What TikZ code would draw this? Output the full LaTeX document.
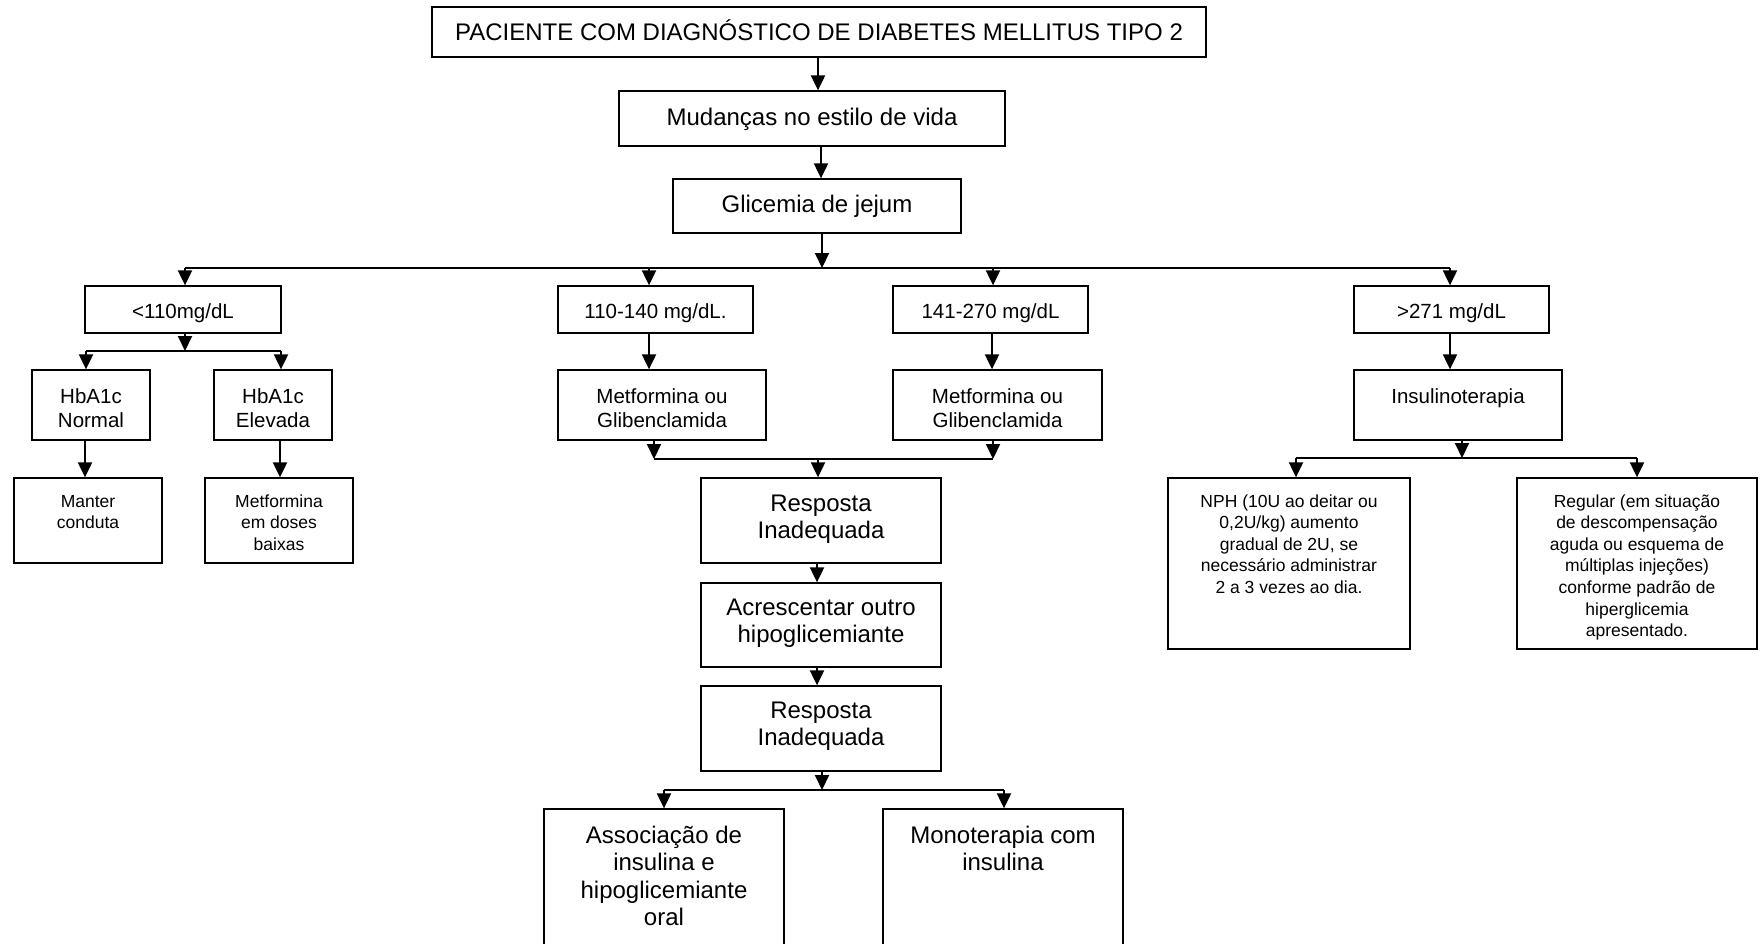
\documentclass[tikz,border=0pt]{standalone}
\usepackage{fontspec}
\setmainfont{Liberation Sans}
\usetikzlibrary{arrows.meta,calc}
\newcommand\mkbox[5]{\node[box, minimum width={(#4-#2)*1pt}, minimum height={(#5-#3)*1pt}] (#1) at ({(#2+#4)/2},{(#3+#5)/2}) {};}
\tikzset{
  box/.style={draw, line width=1.3pt, inner sep=0pt, fill=white},
  ln/.style={line width=2pt},
  arr/.style={line width=2pt, -{Triangle[length=15pt,width=14pt]}},
  tL/.style={anchor=base, align=center, inner sep=0pt, font={\fontsize{24}{27.6}\selectfont}},
  tM/.style={anchor=base, align=center, inner sep=0pt, font={\fontsize{20.5}{24}\selectfont}},
  tS/.style={anchor=base, align=center, inner sep=0pt, font={\fontsize{17.5}{21.6}\selectfont}}
}
\begin{document}
\begin{tikzpicture}[x=1pt,y=-1pt]
\useasboundingbox (0,0) rectangle (1762,943);
\clip (0,0) rectangle (1762,943);
\fill[white] (0,0) rectangle (1762,943);
% boxes
\mkbox{title}{432}{7}{1206}{57}
\mkbox{mud}{619}{91}{1005}{146}
\mkbox{gli}{673}{179}{961}{233}
\mkbox{l110}{85}{286}{281}{333}
\mkbox{r110}{558}{286}{753}{333}
\mkbox{r141}{893}{286}{1088}{333}
\mkbox{g271}{1354}{286}{1549}{333}
\mkbox{hbn}{32}{370}{150}{440}
\mkbox{hbe}{214}{370}{332}{440}
\mkbox{met1}{558}{370}{766}{440}
\mkbox{met2}{893}{370}{1102}{440}
\mkbox{ins}{1354}{370}{1562}{440}
\mkbox{manter}{14}{478}{162}{563}
\mkbox{metdose}{205}{478}{353}{563}
\mkbox{resp1}{701}{478}{941}{563}
\mkbox{acres}{701}{583}{941}{667}
\mkbox{resp2}{701}{686}{941}{771}
\mkbox{assoc}{544}{809}{784}{952}
\mkbox{mono}{883}{809}{1123}{952}
\mkbox{nph}{1168}{478}{1410}{649}
\mkbox{reg}{1517}{478}{1757}{649}
% texts (anchor = baseline of last line)
\node[tL] (title-t) at (819,40) {PACIENTE COM DIAGNÓSTICO DE DIABETES MELLITUS TIPO 2};
\node[tL] (mud-t) at (812,125) {Mudanças no estilo de vida};
\node[tL] (gli-t) at (817,212) {Glicemia de jejum};
\node[tM] (l110-t) at (183,318) {<110mg/dL};
\node[tM] (r110-t) at (655.5,318) {110-140 mg/dL.};
\node[tM] (r141-t) at (990.5,318) {141-270 mg/dL};
\node[tM] (g271-t) at (1451.5,318) {>271 mg/dL};
\node[tM] (hbn-t) at (91,427) {HbA1c\\Normal};
\node[tM] (hbe-t) at (273,427) {HbA1c\\Elevada};
\node[tM] (met1-t) at (662,427) {Metformina ou\\Glibenclamida};
\node[tM] (met2-t) at (997.5,427) {Metformina ou\\Glibenclamida};
\node[tM] (ins-t) at (1458,403) {Insulinoterapia};
\node[tS] (manter-t) at (88,528.6) {Manter\\conduta};
\node[tS] (metdose-t) at (279,550.2) {Metformina\\em doses\\baixas};
\node[tL] (resp1-t) at (821,538.6) {Resposta\\Inadequada};
\node[tL] (acres-t) at (821,642.6) {Acrescentar outro\\hipoglicemiante};
\node[tL] (resp2-t) at (821,745.6) {Resposta\\Inadequada};
\node[tL] (assoc-t) at (664,925.8) {Associação de\\insulina e\\hipoglicemiante\\oral};
\node[tL] (mono-t) at (1003,870.6) {Monoterapia com\\insulina};
\node[tS] (nph-t) at (1289,593.4) {NPH (10U ao deitar ou\\0,2U/kg) aumento\\gradual de 2U, se\\necessário administrar\\2 a 3 vezes ao dia.};
\node[tS] (reg-t) at (1637,636.6) {Regular (em situação\\de descompensação\\aguda ou esquema de\\múltiplas injeções)\\conforme padrão de\\hiperglicemia\\apresentado.};
% junction coordinates
\coordinate (h1L) at (185,268); \coordinate (h1R) at (1450,268); \coordinate (h1M) at (822,268);
\coordinate (h2L) at (86,351); \coordinate (h2R) at (281,351); \coordinate (h2M) at (185,351);
\coordinate (h3L) at (654,459); \coordinate (h3R) at (993,459); \coordinate (h3M) at (818,459);
\coordinate (h4L) at (664,790); \coordinate (h4R) at (1004,790); \coordinate (h4M) at (822,790);
\coordinate (h5L) at (1296,458); \coordinate (h5R) at (1637,458); \coordinate (h5M) at (1462,458);
% connectors
\draw[arr] (818,0 |- title.south) -- (818,0 |- mud.north);
\draw[arr] (821,0 |- mud.south) -- (821,0 |- gli.north);
\draw[arr] (822,0 |- gli.south) -- (h1M);
\draw[ln] (h1L) -- (h1R);
\draw[arr] (h1L) -- (185,0 |- l110.north);
\draw[arr] (649,268) -- (649,0 |- r110.north);
\draw[arr] (993,268) -- (993,0 |- r141.north);
\draw[arr] (h1R) -- (1450,0 |- g271.north);
% <110 branch
\draw[arr] (185,0 |- l110.south) -- (h2M);
\draw[ln] (h2L) -- (h2R);
\draw[arr] (h2L) -- (86,0 |- hbn.north);
\draw[arr] (h2R) -- (281,0 |- hbe.north);
\draw[arr] (85,0 |- hbn.south) -- (85,0 |- manter.north);
\draw[arr] (280,0 |- hbe.south) -- (280,0 |- metdose.north);
% middle
\draw[arr] (649,0 |- r110.south) -- (649,0 |- met1.north);
\draw[arr] (992,0 |- r141.south) -- (992,0 |- met2.north);
\draw[arr] (654,0 |- met1.south) -- (h3L);
\draw[arr] (993,0 |- met2.south) -- (h3R);
\draw[ln] (h3L) -- (h3R);
\draw[arr] (h3M) -- (818,0 |- resp1.north);
\draw[arr] (817,0 |- resp1.south) -- (817,0 |- acres.north);
\draw[arr] (817,0 |- acres.south) -- (817,0 |- resp2.north);
\draw[arr] (822,0 |- resp2.south) -- (h4M);
\draw[ln] (h4L) -- (h4R);
\draw[arr] (h4L) -- (664,0 |- assoc.north);
\draw[arr] (h4R) -- (1004,0 |- mono.north);
% right
\draw[arr] (1450,0 |- g271.south) -- (1450,0 |- ins.north);
\draw[arr] (1462,0 |- ins.south) -- (h5M);
\draw[ln] (h5L) -- (h5R);
\draw[arr] (h5L) -- (1296,0 |- nph.north);
\draw[arr] (h5R) -- (1637,0 |- reg.north);
\end{tikzpicture}
\end{document}
